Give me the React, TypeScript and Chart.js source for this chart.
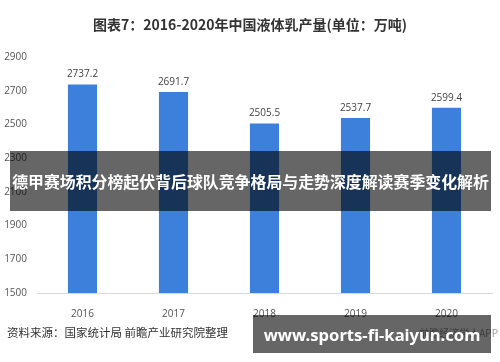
import React, { useEffect, useRef } from "react";
import { Chart, registerables } from "chart.js";

Chart.register(...registerables);

const categories = ["2016", "2017", "2018", "2019", "2020"];
const production = [2737.2, 2691.7, 2505.5, 2537.7, 2599.4];
const yMin = 1500;
const yMax = 2900;
const yStep = 200;

const titleText = "图表7：2016-2020年中国液体乳产量(单位：万吨)";
const sourceText = "资料来源：国家统计局 前瞻产业研究院整理";
const bandText = "德甲赛场积分榜起伏背后球队竞争格局与走势深度解读赛季变化解析";
const urlText = "www.sports-fi-kaiyun.com";

const valueLabelPlugin = {
  id: "valueLabels",
  afterDatasetsDraw(chart: any) {
    const ctx = chart.ctx;
    const meta = chart.getDatasetMeta(0);
    ctx.save();
    ctx.font = "10px 'Open Sans', sans-serif";
    ctx.fillStyle = "#444";
    ctx.textAlign = "center";
    ctx.textBaseline = "bottom";
    meta.data.forEach((bar: any, i: number) => {
      ctx.fillText(production[i].toFixed(1), bar.x, bar.y - 5);
    });
    ctx.restore();
  },
};

export default function App() {
  const ref = useRef<HTMLCanvasElement>(null);
  useEffect(() => {
    document.body.style.margin = "0";
    const chart = new Chart(ref.current!, {
      type: "bar",
      data: {
        labels: categories,
        datasets: [
          {
            data: production,
            backgroundColor: "#3c80dc",
            categoryPercentage: 1,
            barPercentage: 0.32,
          },
        ],
      },
      options: {
        animation: false,
        responsive: false,
        maintainAspectRatio: false,
        layout: { padding: { top: 57, right: 8, left: 0, bottom: 0 } },
        plugins: { legend: { display: false }, tooltip: { enabled: false }, title: { display: false } },
        scales: {
          x: {
            grid: { display: false },
            border: { display: true, color: "#d9d9d9" },
            ticks: { color: "#555", font: { family: "'Open Sans', sans-serif", size: 10 }, padding: 7 },
            afterFit: (s: any) => {
              s.height = 69;
            },
          },
          y: {
            min: yMin,
            max: yMax,
            grid: { display: false, drawTicks: false },
            border: { display: false },
            ticks: {
              stepSize: yStep,
              color: "#555",
              font: { family: "'Open Sans', sans-serif", size: 10 },
              padding: 10,
              callback: (v: any) => String(v),
            },
            afterFit: (s: any) => {
              s.width = 37;
            },
          },
        },
      },
      plugins: [valueLabelPlugin],
    });
    return () => chart.destroy();
  }, []);

  return (
    <div style={{ position: "relative", width: 500, height: 362, background: "#fff", overflow: "hidden" }}>
      <canvas ref={ref} width={500} height={362} style={{ position: "absolute", left: 0, top: 0 }} />
      <div
        style={{
          position: "absolute",
          left: 0,
          top: 14,
          width: 500,
          textAlign: "center",
          font: "bold 14px 'Noto Sans CJK SC', sans-serif",
          color: "#333",
        }}
      >
        {titleText}
      </div>
      <div
        style={{
          position: "absolute",
          left: 7,
          top: 324,
          font: "11.5px 'Noto Sans CJK SC', sans-serif",
          color: "#333",
          whiteSpace: "nowrap",
        }}
      >
        {sourceText}
      </div>
      <div
        style={{
          position: "absolute",
          right: 2,
          top: 325,
          font: "10px 'Noto Sans CJK SC', sans-serif",
          color: "#999",
          whiteSpace: "nowrap",
        }}
      >
        前瞻经济学人APP
      </div>
      <div
        style={{
          position: "absolute",
          left: 10,
          top: 151,
          width: 481,
          height: 60,
          background: "rgba(0,0,0,0.6)",
          display: "flex",
          alignItems: "center",
          justifyContent: "center",
        }}
      >
        <span
          style={{
            font: "bold 15.9px 'Noto Sans CJK SC', sans-serif",
            color: "#fff",
            whiteSpace: "nowrap",
          }}
        >
          {bandText}
        </span>
      </div>
      <div
        style={{
          position: "absolute",
          left: 253,
          top: 315,
          width: 238,
          height: 38,
          background: "rgba(0,0,0,0.6)",
          display: "flex",
          alignItems: "center",
          justifyContent: "center",
        }}
      >
        <span
          style={{
            font: "bold 16.6px 'Noto Sans', sans-serif",
            color: "#fff",
            whiteSpace: "nowrap",
          }}
        >
          {urlText}
        </span>
      </div>
    </div>
  );
}
